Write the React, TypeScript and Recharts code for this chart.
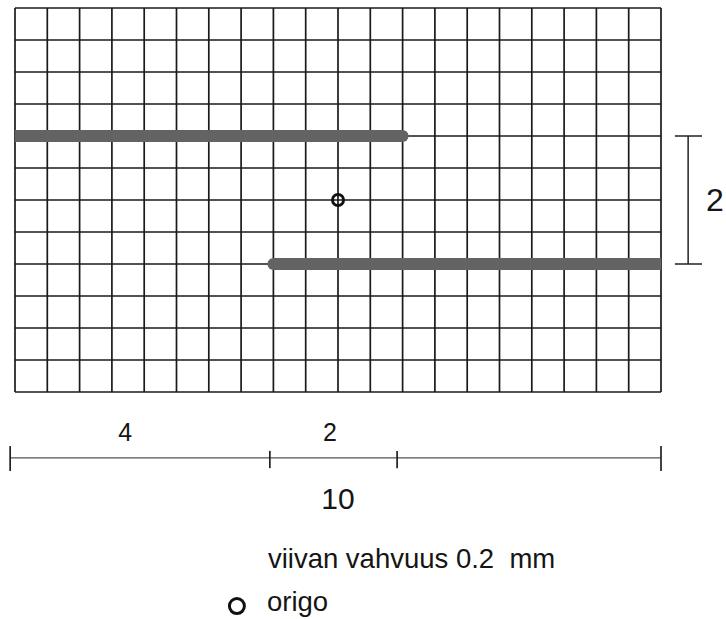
import React from "react";
import {
  ComposedChart, XAxis, YAxis, CartesianGrid, Line, ReferenceLine, ReferenceDot
} from "recharts";

// grid is counted in cells: 20 across, 12 down (origin at the bottom left)
const gridCols = [0, 1, 2, 3, 4, 5, 6, 7, 8, 9, 10, 11, 12, 13, 14, 15, 16, 17, 18, 19, 20];
const gridRows = [0, 1, 2, 3, 4, 5, 6, 7, 8, 9, 10, 11, 12];

// the two thick strokes
const upperStroke = [{ x: 0, y: 8 }, { x: 12, y: 8 }];
const lowerStroke = [{ x: 8, y: 4 }, { x: 20, y: 4 }];

const origin = { x: 10, y: 6 };

// right-hand dimension bracket
const bracketX = 20.84;
const bracketTicks = [20.43, 21.27];
const bracketSpan = [4, 8];
const bracketLabel = { x: 21.67, y: 6, text: "2" };

// dimension scale below the grid
const scaleY = -2.06;
const scaleStops = [-0.15, 7.89, 11.83, 20];
const scaleTickOuter = [-1.69, -2.47];
const scaleTickInner = [-1.84, -2.38];
const scaleLabels = [
  { x: 3.41, y: -1.25, text: "4", size: 25 },
  { x: 9.75, y: -1.25, text: "2", size: 25 },
  { x: 10.0, y: -3.34, text: "10", size: 30 },
];

const noteLines = [
  { x: 7.83, y: -5.19, text: "viivan vahvuus 0.2\u00a0 mm" },
  { x: 7.8, y: -6.56, text: "origo" },
];
const noteSymbol = { x: 6.87, y: -6.69 };

const FONT = "'Liberation Sans', Arial, Helvetica, sans-serif";

const label = (text: string, size: number, anchor: "start" | "middle") => (p: any) => {
  const vb = p.viewBox || { x: 0, y: 0, width: 0, height: 0 };
  return (
    <text
      x={vb.x + vb.width / 2}
      y={vb.y + vb.height / 2}
      textAnchor={anchor}
      dominantBaseline="central"
      fontSize={size}
      fontFamily={FONT}
      fill="#151515"
      style={{ whiteSpace: "pre" }}
    >
      {text}
    </text>
  );
};

export default function App() {
  return (
    <div style={{ position: "absolute", left: 0, top: 0, background: "#fff" }}>
      <ComposedChart
        width={726}
        height={619}
        margin={{ top: 8, right: 65, bottom: 227, left: 15 }}
      >
        <XAxis type="number" dataKey="x" domain={[0, 20]} ticks={gridCols} hide allowDataOverflow />
        <YAxis type="number" dataKey="y" domain={[0, 12]} ticks={gridRows} hide allowDataOverflow />
        <CartesianGrid stroke="#1a1a1a" strokeWidth={1.7} />

        <Line data={upperStroke} dataKey="y" stroke="#636363" strokeWidth={12}
          strokeLinecap="round" dot={false} isAnimationActive={false} />
        <Line data={lowerStroke} dataKey="y" stroke="#636363" strokeWidth={12}
          strokeLinecap="round" dot={false} isAnimationActive={false} />

        <ReferenceDot x={origin.x} y={origin.y} r={5.5} fill="none" stroke="#111" strokeWidth={3} />

        {/* bracket */}
        <ReferenceLine ifOverflow="visible" stroke="#222" strokeWidth={1.5}
          segment={[{ x: bracketX, y: bracketSpan[0] }, { x: bracketX, y: bracketSpan[1] }]} />
        {bracketSpan.map((y) => (
          <ReferenceLine key={"bt" + y} ifOverflow="visible" stroke="#222" strokeWidth={1.5}
            segment={[{ x: bracketTicks[0], y }, { x: bracketTicks[1], y }]} />
        ))}
        <ReferenceDot x={bracketLabel.x} y={bracketLabel.y} r={0} ifOverflow="visible"
          label={label(bracketLabel.text, 32, "middle")} />

        {/* scale */}
        <ReferenceLine ifOverflow="visible" stroke="#555" strokeWidth={1.4}
          segment={[{ x: scaleStops[0], y: scaleY }, { x: scaleStops[3], y: scaleY }]} />
        {scaleStops.map((x, i) => {
          const t = i === 0 || i === scaleStops.length - 1 ? scaleTickOuter : scaleTickInner;
          return (
            <ReferenceLine key={"st" + i} ifOverflow="visible" stroke="#222" strokeWidth={1.7}
              segment={[{ x, y: t[0] }, { x, y: t[1] }]} />
          );
        })}
        {scaleLabels.map((l) => (
          <ReferenceDot key={"sl" + l.text} x={l.x} y={l.y} r={0} ifOverflow="visible"
            label={label(l.text, l.size, "middle")} />
        ))}

        {/* notes */}
        {noteLines.map((n) => (
          <ReferenceDot key={n.text} x={n.x} y={n.y} r={0} ifOverflow="visible"
            label={label(n.text, 27.5, "start")} />
        ))}
        <ReferenceDot x={noteSymbol.x} y={noteSymbol.y} r={7.5} ifOverflow="visible"
          fill="none" stroke="#111" strokeWidth={3} />
      </ComposedChart>
    </div>
  );
}
